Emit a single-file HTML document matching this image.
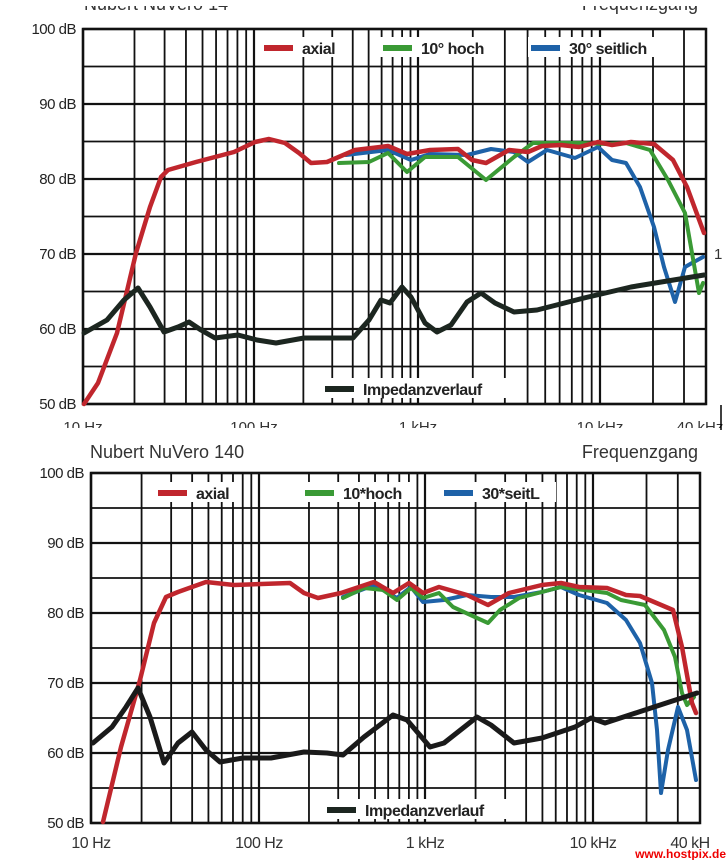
<!DOCTYPE html>
<html><head><meta charset="utf-8"><style>
html,body{margin:0;padding:0;background:#fff;width:728px;height:860px;overflow:hidden}
svg{display:block}
text{font-family:"Liberation Sans",sans-serif}
</style></head><body>
<svg id="s" width="728" height="860" xmlns="http://www.w3.org/2000/svg">
<rect width="728" height="860" fill="#fff"/>
<g id="g1"></g><g id="g2"></g>
</svg>
<script>
const NS="http://www.w3.org/2000/svg";
function el(p,t,a,txt){const e=document.createElementNS(NS,t);for(const k in a)e.setAttribute(k,a[k]);if(txt!==undefined)e.textContent=txt;p.appendChild(e);return e;}
function mk(g,L,R,T,B,dec){
  function fx(f){const l=Math.log10(f);const i=Math.min(2,Math.floor(l-1));const fr=l-1-i;
    if(l<4) return dec[i]+(dec[i+1]-dec[i])*fr;
    return dec[3]+(l-4)/Math.log10(4)*(R-dec[3]);}
  const dy=(B-T)/10;
  for(let k=0;k<=10;k++){el(g,'line',{x1:L,x2:R,y1:T+k*dy,y2:T+k*dy,stroke:'#111','stroke-width':k%2==0?2.2:1.8});}
  for(let d=10;d<=10000;d*=10){for(let m=1;m<10;m++){const f=d*m;if(f>40000)break;const x=fx(f);
    el(g,'line',{x1:x,x2:x,y1:T,y2:B,stroke:'#111','stroke-width':m==1?2.2:1.8});}}
  el(g,'rect',{x:L,y:T,width:R-L,height:B-T,fill:'none',stroke:'#111','stroke-width':2.5});
  const lab=['100 dB','90 dB','80 dB','70 dB','60 dB','50 dB'];
  lab.forEach((s,i)=>el(g,'text',{x:L-7,y:T+i*2*dy+5,'text-anchor':'end','font-size':15,fill:'#222','letter-spacing':'-0.5'},s));
  return fx;
}
function poly(g,pts,c,w){el(g,'polyline',{points:pts.map(p=>p.join(',')).join(' '),fill:'none',stroke:c,'stroke-width':w,'stroke-linejoin':'round','stroke-linecap':'round'});}
function legend(g,items){items.forEach(it=>{const [x,y,c,t,tw]=it;
  el(g,'rect',{x:x-3,y:y-11,width:tw+40,height:20,fill:'#fff'});
  el(g,'rect',{x:x,y:y-3,width:29,height:6,fill:c});
  el(g,'text',{x:x+38,y:y+6,'font-size':16,'font-weight':'bold',fill:'#222','letter-spacing':'-0.5'},t);});}
const RED='#c0262d',GRN='#3a9a35',BLU='#1e62a8',BLK='#1c2620';
const g1=document.getElementById('g1');
mk(g1,83,706,29,404,[83,254,418,600]);
legend(g1,[[264,48,RED,'axial',50],[383,48,GRN,'10° hoch',80],[531,48,BLU,'30° seitlich',100],[325,389,BLK,'Impedanzverlauf',150]]);
poly(g1,[[346,155],[388,150],[411,160],[430,154],[467,155],[491,149],[514,152],[528,162],[547,150],[575,158],[598,147],[612,160],[626,163],[640,187],[654,227],[664,267],[675,302],[685,267],[692,263],[703,257]],BLU,4);
poly(g1,[[339,163],[369,162],[388,153],[407,172],[425,157],[458,157],[486,180],[514,157],[533,143],[579,143],[607,144],[626,143],[650,150],[668,180],[685,213],[692,253],[699,293],[703,283]],GRN,4);
poly(g1,[[84,404],[98,383],[117,333],[136,253],[150,207],[161,177],[168,170],[196,162],[234,152],[255,142],[269,139],[285,143],[299,153],[311,163],[327,162],[355,150],[388,146],[407,154],[430,150],[458,149],[472,160],[486,163],[509,150],[528,152],[542,146],[561,145],[579,147],[598,142],[612,145],[631,142],[654,144],[673,160],[687,187],[704,233]],RED,4.5);
poly(g1,[[84,333],[107,320],[124,300],[138,288],[150,307],[164,332],[178,327],[189,322],[201,330],[215,338],[238,335],[257,340],[276,343],[304,338],[327,338],[353,338],[369,320],[381,300],[390,303],[402,287],[411,297],[425,323],[437,332],[451,325],[467,302],[481,293],[495,303],[514,312],[537,310],[584,298],[631,287],[704,275]],BLK,5);
el(g1,'text',{x:84,y:10,'font-size':18,fill:'#333'},'Nubert NuVero 14');
el(g1,'text',{x:698,y:10,'text-anchor':'end','font-size':18,fill:'#333'},'Frequenzgang');
el(g1,'rect',{x:0,y:0,width:728,height:6,fill:'#fff'});
[[83,'10 Hz'],[254,'100 Hz'],[418,'1 kHz'],[600,'10 kHz'],[700,'40 kHz']].forEach(a=>el(g1,'text',{x:a[0],y:432,'text-anchor':'middle','font-size':15,fill:'#333'},a[1]));
el(g1,'rect',{x:0,y:428,width:728,height:10,fill:'#fff'});
el(g1,'text',{x:714,y:259,'font-size':15,fill:'#333'},'1');
el(g1,'line',{x1:721,x2:721,y1:405,y2:430,stroke:'#000','stroke-width':1.5});
const g2=document.getElementById('g2');
mk(g2,91,700,473,823,[91,259,425,593]);
el(g2,'text',{x:90,y:458,'font-size':18,fill:'#333'},'Nubert NuVero 140');
el(g2,'text',{x:698,y:458,'text-anchor':'end','font-size':18,fill:'#333'},'Frequenzgang');
legend(g2,[[158,493,RED,'axial',42],[305,493,GRN,'10*hoch',70],[444,493,BLU,'30*seitL',75],[327,810,BLK,'Impedanzverlauf',150]]);
poly(g2,[[343,597],[374,585],[397,598],[411,587],[423,602],[444,600],[467,595],[491,597],[514,597],[542,592],[561,587],[579,595],[607,603],[626,620],[640,643],[652,683],[657,730],[661,793],[668,750],[678,707],[687,730],[696,780]],BLU,4);
poly(g2,[[343,598],[364,588],[383,590],[397,600],[411,588],[423,598],[439,593],[453,607],[477,618],[488,623],[500,610],[519,598],[561,587],[607,593],[621,600],[645,605],[664,630],[675,657],[682,693],[687,705],[694,697]],GRN,4);
poly(g2,[[103,822],[121,747],[140,680],[154,623],[166,597],[178,592],[206,582],[234,585],[290,583],[304,593],[318,598],[341,593],[374,582],[393,593],[409,583],[423,593],[439,587],[467,595],[488,605],[509,593],[542,585],[561,583],[579,587],[607,588],[626,595],[640,596],[673,610],[682,647],[692,703],[696,713]],RED,4.5);
poly(g2,[[93,743],[112,727],[126,707],[138,688],[150,717],[164,763],[178,743],[192,732],[206,750],[220,762],[243,758],[271,758],[304,752],[327,753],[343,755],[364,737],[393,715],[407,720],[430,747],[444,743],[477,717],[491,725],[514,743],[542,738],[575,727],[591,718],[605,723],[654,707],[697,693]],'#1a1a1a',5);
[[91,'10 Hz'],[259,'100 Hz'],[425,'1 kHz'],[593,'10 kHz'],[690,'40 kH']].forEach(a=>el(g2,'text',{x:a[0],y:848,'text-anchor':'middle','font-size':16,fill:'#333','letter-spacing':'-0.5'},a[1]));
el(g2,'text',{x:726,y:858,'text-anchor':'end','font-size':12,'font-weight':'bold',fill:'#e00','font-family':'Liberation Mono, monospace'},'www.hostpix.de');
</script>
</body></html>
